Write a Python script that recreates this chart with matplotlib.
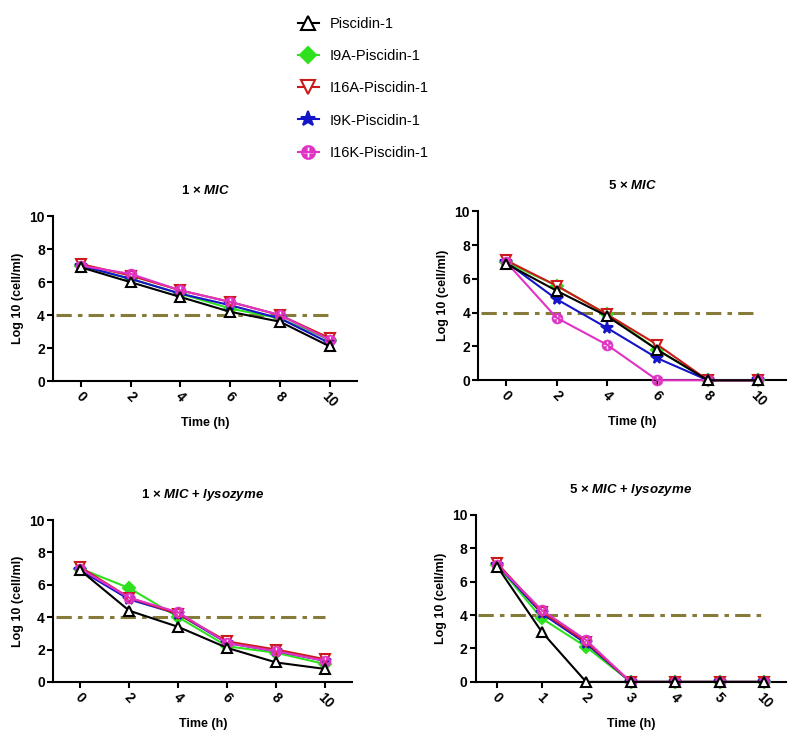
import numpy as np
import matplotlib
matplotlib.use('Agg')
import matplotlib.pyplot as plt
from matplotlib.path import Path

plt.rcParams['font.family'] = ['Liberation Sans', 'DejaVu Sans']
plt.rcParams['mathtext.fontset'] = 'custom'
plt.rcParams['mathtext.it'] = 'Liberation Sans:italic:bold'
plt.rcParams['mathtext.rm'] = 'Liberation Sans:bold'

peptides = ['Piscidin-1', 'I9A-Piscidin-1', 'I16A-Piscidin-1', 'I9K-Piscidin-1', 'I16K-Piscidin-1']

# time points
time_a = ['0', '2', '4', '6', '8', '10']
time_b = ['0', '1', '2', '3', '4', '5', '10']

# 1 x MIC
mic1 = [
    [6.9, 6.0, 5.1, 4.2, 3.6, 2.1],
    [7.0, 6.2, 5.3, 4.4, 3.8, 2.5],
    [7.1, 6.4, 5.5, 4.8, 4.0, 2.6],
    [7.0, 6.2, 5.3, 4.6, 3.8, 2.3],
    [7.0, 6.5, 5.5, 4.8, 4.0, 2.5],
]
# 5 x MIC
mic5 = [
    [6.9, 5.3, 3.8, 1.8, 0, 0],
    [7.0, 5.6, 3.9, 1.8, 0, 0],
    [7.1, 5.6, 3.9, 2.1, 0, 0],
    [7.0, 4.8, 3.1, 1.3, 0, 0],
    [7.0, 3.7, 2.1, 0.0, 0, 0],
]
# 1 x MIC + lysozyme
mic1_lys = [
    [6.9, 4.4, 3.4, 2.1, 1.2, 0.8],
    [7.0, 5.8, 4.0, 2.2, 1.8, 1.1],
    [7.1, 5.2, 4.2, 2.5, 2.0, 1.4],
    [6.9, 5.1, 4.2, 2.4, 1.9, 1.3],
    [7.0, 5.2, 4.3, 2.4, 1.9, 1.3],
]
# 5 x MIC + lysozyme
mic5_lys = [
    [6.9, 3.0, 0.0, 0, 0, 0, 0],
    [7.0, 3.8, 2.1, 0, 0, 0, 0],
    [7.1, 4.2, 2.4, 0, 0, 0, 0],
    [7.0, 4.1, 2.3, 0, 0, 0, 0],
    [7.0, 4.3, 2.5, 0, 0, 0, 0],
]
threshold = 4

# circle with a white cross cut out (GraphPad style)
a = 0.16
r = 0.72
cross = [(a, -r), (a, -a), (r, -a), (r, a), (a, a), (a, r), (-a, r), (-a, a),
         (-r, a), (-r, -a), (-a, -a), (-a, -r)]
cross = cross[::-1] + [cross[-1]]
circ = Path.unit_circle()
cross_path = Path(cross, [Path.MOVETO] + [Path.LINETO] * 11 + [Path.CLOSEPOLY])
circ_cross = Path.make_compound_path(circ, cross_path)

colors = ['black', '#2ee01e', '#cc1a1a', '#1414c8', '#e032c4']
markers = ['^', 'D', 'v', '*', circ_cross]
faces = ['white', '#2ee01e', 'white', '#1414c8', '#e032c4']
msizes = [7.5, 6.5, 7.5, 8.5, 8]
mews = [1.5, 1.5, 1.5, 1.5, 0.3]
zorders = [8, 4, 6, 5, 7]

fig = plt.figure(figsize=(8.08, 7.56), dpi=100)

panels = [
    ([0.066, 0.496, 0.376, 0.218], '1 × $\\mathit{MIC}$', time_a, mic1, True),
    ([0.592, 0.497, 0.381, 0.2235], '5 × $\\mathit{MIC}$', time_a, mic5, True),
    ([0.066, 0.098, 0.370, 0.214], '1 × $\\mathit{MIC}$ + $\\mathit{lysozyme}$', time_a, mic1_lys, True),
    ([0.589, 0.098, 0.384, 0.221], '5 × $\\mathit{MIC}$ + $\\mathit{lysozyme}$', time_b, mic5_lys, False),
]

handles = []
for rect, title, times, data, numeric in panels:
    ax = fig.add_axes(rect)
    if numeric:
        xs = np.array([float(t) for t in times])
        ax.set_xlim(-1.1, 11.1)
    else:
        xs = np.arange(len(times))
        ax.set_xlim(-0.48, 6.5)
    ax.plot([ax.get_xlim()[0] + 0.05 * (xs[1] - xs[0]), xs[-1]], [threshold, threshold],
            color='#877b3a', lw=2.2, ls=(0, (5, 2, 1.5, 2)), zorder=1)
    hs = []
    for i in range(len(peptides)):
        ln, = ax.plot(xs, data[i], color=colors[i], marker=markers[i], ms=msizes[i],
                      mfc=faces[i], mec=colors[i], mew=mews[i], lw=1.5, clip_on=False,
                      zorder=zorders[i])
        hs.append(ln)
    handles = hs
    ax.set_ylim(0, 10)
    ax.set_yticks([0, 2, 4, 6, 8, 10])
    ax.set_xticks(xs)
    ax.set_xticklabels(times, rotation=-45, ha='center', va='top')
    for lab in ax.get_xticklabels() + ax.get_yticklabels():
        lab.set_fontweight('bold')
        lab.set_fontsize(10)
    ax.spines['top'].set_visible(False)
    ax.spines['right'].set_visible(False)
    ax.spines['left'].set_linewidth(1.5)
    ax.spines['bottom'].set_linewidth(1.5)
    ax.tick_params(width=1.5, length=4, pad=2)
    ax.set_title(title, fontsize=9.5, fontweight='bold', pad=16)
    ax.set_xlabel('Time (h)', fontsize=9, fontweight='bold', labelpad=5)
    ax.set_ylabel('Log 10 (cell/ml)', fontsize=9, fontweight='bold', labelpad=4)

fig.legend(handles, peptides, loc='upper left', bbox_to_anchor=(0.352, 0.995), frameon=False,
           fontsize=10.5, labelspacing=1.25, handlelength=1.5, handletextpad=0.7,
           markerscale=1.3)

fig.savefig('out.png', dpi=100)
